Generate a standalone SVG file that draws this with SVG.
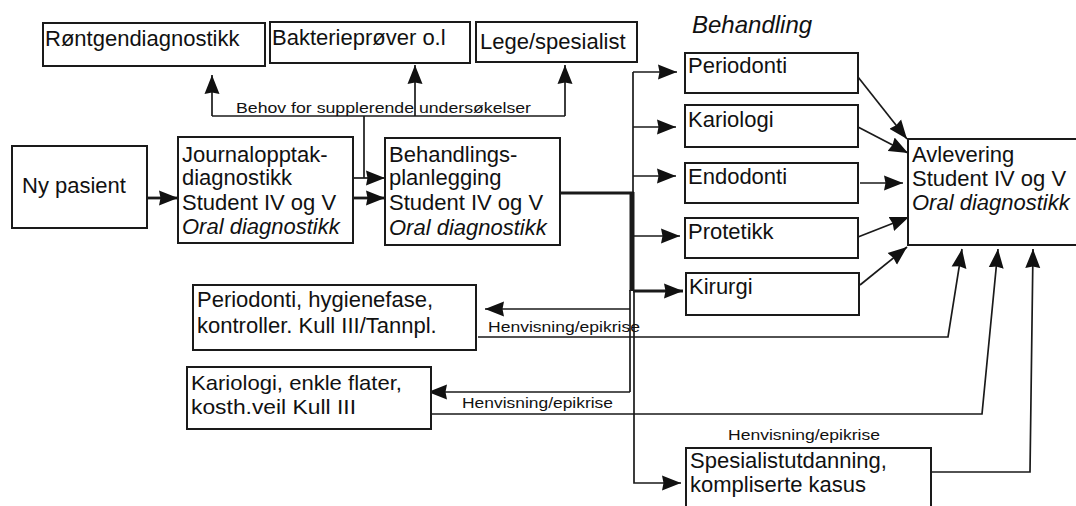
<svg xmlns="http://www.w3.org/2000/svg" width="1076" height="506" viewBox="0 0 1076 506">
<defs>
<style>
.box{fill:#fff;stroke:#1a1a1a;stroke-width:2}
.t{font-family:"Liberation Sans",Arial,sans-serif;font-size:22px;fill:#111}
.i{font-style:italic}
.lbl{font-family:"Liberation Sans",Arial,sans-serif;font-size:15.5px;fill:#111}
.c{fill:none;stroke:#1a1a1a;stroke-width:1.7}
.a{fill:none;stroke:#1a1a1a;stroke-width:1.7;marker-end:url(#ah)}
.a3{fill:none;stroke:#1a1a1a;stroke-width:2.8;marker-end:url(#ah)}
</style>
<marker id="ah" markerUnits="userSpaceOnUse" markerWidth="20" markerHeight="16" refX="19" refY="8" orient="auto" viewBox="0 0 20 16">
<path d="M0,0.5 L19,8 L0,15.5 L1.5,8 z" fill="#111"/>
</marker>
</defs>
<rect width="1076" height="506" fill="#fff"/>

<g id="connectors">
<!-- Behov for supplerende undersøkelser -->
<polyline class="c" points="212,116 565,116"/>
<line class="a" x1="212" y1="116" x2="212" y2="75"/>
<line class="a" x1="415" y1="116" x2="415" y2="65"/>
<line class="a" x1="565" y1="116" x2="565" y2="65"/>
<line class="c" x1="364" y1="116" x2="364" y2="178"/>
<!-- Ny pasient to Journal -->
<line class="a3" x1="147" y1="198" x2="178" y2="198"/>
<!-- Journal to Behandlings -->
<line class="a" x1="353" y1="178" x2="385" y2="178"/>
<line class="a3" x1="353" y1="198" x2="385" y2="198"/>
<!-- Behandlings to distribution -->
<line class="c" x1="560" y1="193" x2="634" y2="193" style="stroke-width:3"/>
<line class="c" x1="632" y1="192" x2="632" y2="291" style="stroke-width:5"/>
<line class="c" x1="633" y1="72" x2="633" y2="193"/>
<line class="a" x1="633" y1="72" x2="677" y2="72"/>
<line class="a" x1="633" y1="127" x2="676" y2="127"/>
<line class="a" x1="633" y1="176" x2="676" y2="176"/>
<line class="a" x1="633" y1="236" x2="680" y2="236"/>
<line class="a3" x1="633" y1="291" x2="683" y2="291"/>
<polyline class="c" points="630,290 630,392"/>
<line class="a" x1="630" y1="309" x2="485" y2="309"/>
<line class="a" x1="630" y1="392" x2="428" y2="392"/>
<polyline class="a" points="634,290 634,483 681,483"/>
<!-- Treatment to Avlevering -->
<line class="a" x1="858" y1="77" x2="907" y2="139"/>
<line class="a" x1="858" y1="127" x2="908" y2="153"/>
<line class="a" x1="860" y1="183" x2="903" y2="183"/>
<line class="a" x1="858" y1="237" x2="909" y2="217"/>
<line class="a" x1="860" y1="285" x2="907" y2="247"/>
<!-- Henvisning/epikrise returns -->
<polyline class="a" points="478,337 948,337 962,249"/>
<polyline class="a" points="431,414 982,414 998,249"/>
<polyline class="a" points="931,472 1030,472 1033,249"/>
<text class="lbl" x="236" y="113" textLength="295" lengthAdjust="spacingAndGlyphs">Behov for supplerende undersøkelser</text>
<text class="lbl" x="488" y="332" textLength="152" lengthAdjust="spacingAndGlyphs">Henvisning/epikrise</text>
<text class="lbl" x="462" y="408" textLength="151" lengthAdjust="spacingAndGlyphs">Henvisning/epikrise</text>
<text class="lbl" x="728" y="440" textLength="152" lengthAdjust="spacingAndGlyphs">Henvisning/epikrise</text>
</g>

<g id="rontgen">
<rect class="box" x="43" y="23" width="222" height="43"/>
<text class="t" x="45" y="46">Røntgendiagnostikk</text>
</g>
<g id="bakterie">
<rect class="box" x="270" y="22" width="200" height="41"/>
<text class="t" x="272" y="45">Bakterieprøver o.l</text>
</g>
<g id="lege">
<rect class="box" x="476" y="22" width="161" height="40"/>
<text class="t" x="480" y="49">Lege/spesialist</text>
</g>

<g id="ny-pasient">
<rect class="box" x="12" y="146" width="135" height="82"/>
<text class="t" x="22" y="193">Ny pasient</text>
</g>
<g id="journal">
<rect class="box" x="178" y="137" width="175" height="106"/>
<text class="t" x="182" y="162">Journalopptak-</text>
<text class="t" x="182" y="185">diagnostikk</text>
<text class="t" x="182" y="210">Student IV og V</text>
<text class="t i" x="182" y="234">Oral diagnostikk</text>
</g>
<g id="behandlingsplan">
<rect class="box" x="385" y="138" width="175" height="107"/>
<text class="t" x="389" y="162">Behandlings-</text>
<text class="t" x="389" y="185">planlegging</text>
<text class="t" x="389" y="210">Student IV og V</text>
<text class="t i" x="389" y="235">Oral diagnostikk</text>
</g>

<g id="behandling-title">
<text class="t i" x="692" y="33" style="font-size:24px">Behandling</text>
</g>
<g id="periodonti">
<rect class="box" x="685" y="53" width="173" height="40"/>
<text class="t" x="688" y="73">Periodonti</text>
</g>
<g id="kariologi">
<rect class="box" x="685" y="105" width="173" height="42"/>
<text class="t" x="688" y="127">Kariologi</text>
</g>
<g id="endodonti">
<rect class="box" x="685" y="163" width="173" height="40"/>
<text class="t" x="688" y="184">Endodonti</text>
</g>
<g id="protetikk">
<rect class="box" x="685" y="218" width="173" height="40"/>
<text class="t" x="688" y="239">Protetikk</text>
</g>
<g id="kirurgi">
<rect class="box" x="686" y="273" width="173" height="42"/>
<text class="t" x="689" y="294">Kirurgi</text>
</g>

<g id="avlevering">
<path class="box" d="M1076,139 H908 V245 H1076"/>
<text class="t" x="912" y="162">Avlevering</text>
<text class="t" x="912" y="186">Student IV og V</text>
<text class="t i" x="912" y="210">Oral diagnostikk</text>
</g>

<g id="periodonti-hygiene">
<rect class="box" x="193" y="285" width="283" height="65"/>
<text class="t" x="197" y="307">Periodonti, hygienefase,</text>
<text class="t" x="197" y="333">kontroller. Kull III/Tannpl.</text>
</g>
<g id="kariologi-enkle">
<rect class="box" x="187" y="367" width="244" height="62"/>
<text class="t" x="191" y="390" style="font-size:21px" textLength="211" lengthAdjust="spacingAndGlyphs">Kariologi, enkle flater,</text>
<text class="t" x="191" y="414" style="font-size:21px" textLength="165" lengthAdjust="spacingAndGlyphs">kosth.veil Kull III</text>
</g>
<g id="spesialist">
<path class="box" d="M686,506 V448 H931 V506"/>
<text class="t" x="690" y="468">Spesialistutdanning,</text>
<text class="t" x="690" y="492">kompliserte kasus</text>
</g>
</svg>
